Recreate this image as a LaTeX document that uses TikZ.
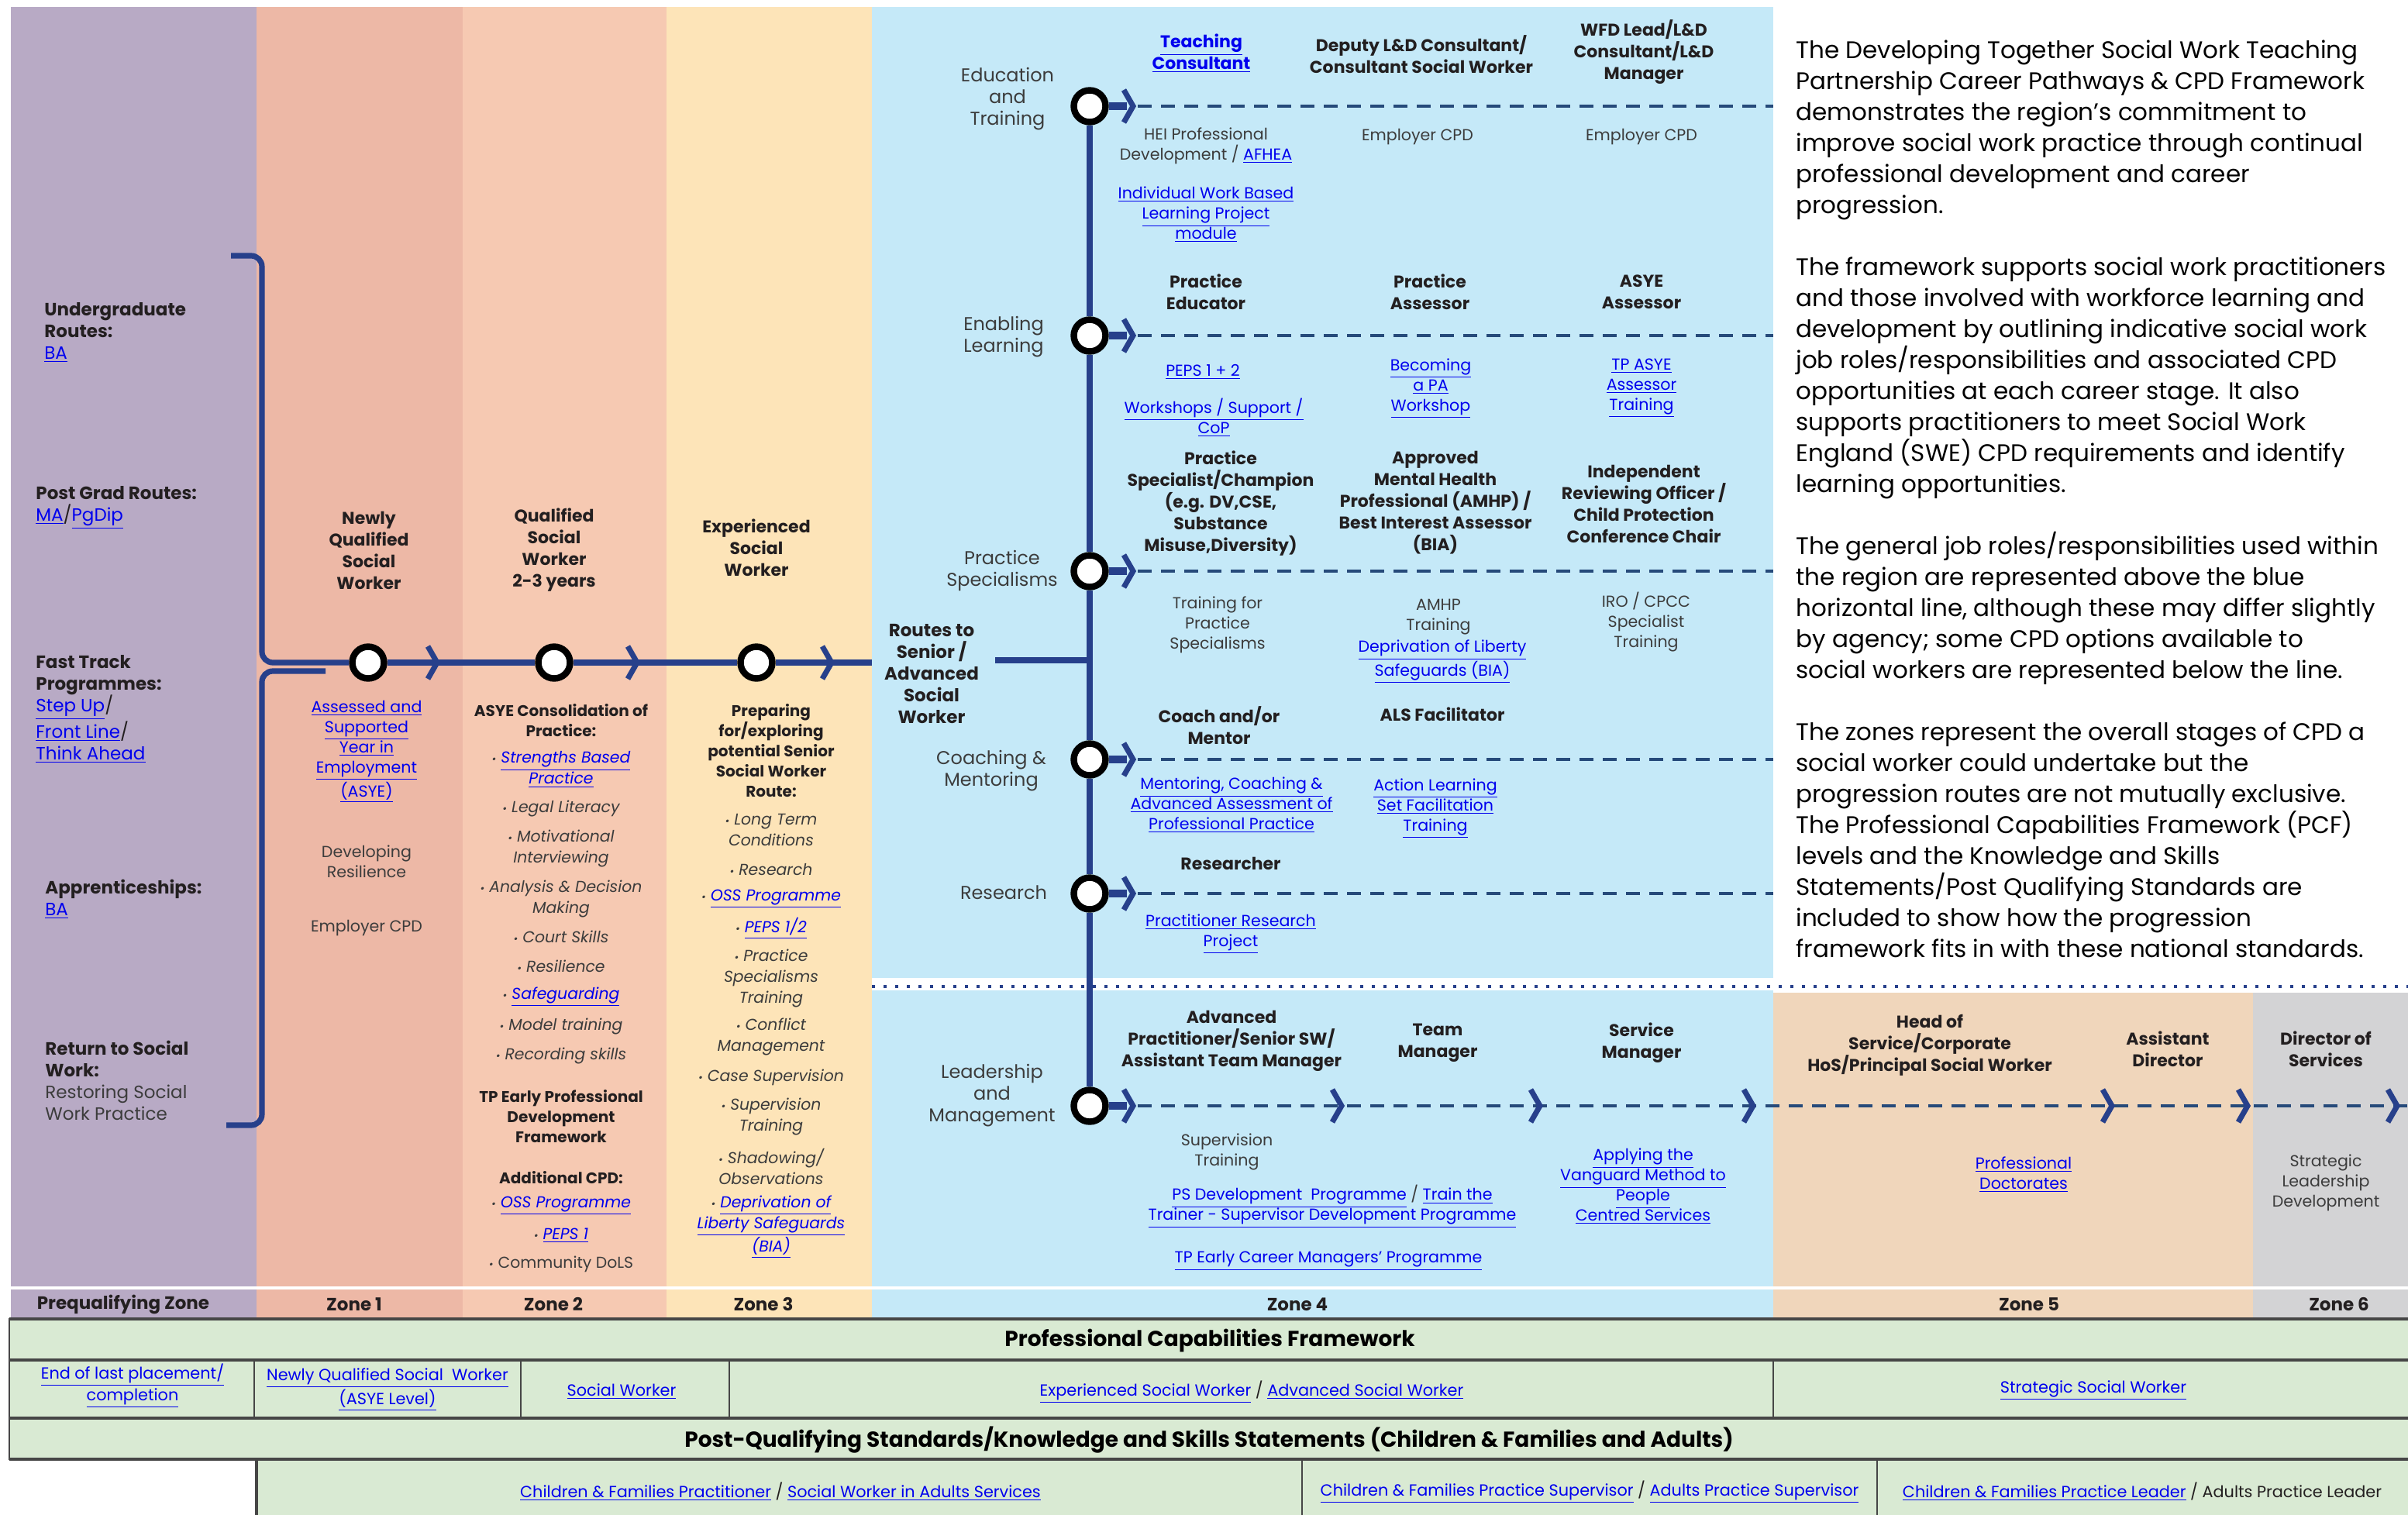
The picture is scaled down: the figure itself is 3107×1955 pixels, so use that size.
\documentclass[tikz,border=0pt]{standalone}
\usepackage{fontspec}
\setmainfont{Poppins}
\usetikzlibrary{positioning}

\definecolor{purplezone}{RGB}{184,170,197}
\definecolor{zoneone}{RGB}{237,184,166}
\definecolor{zonetwo}{RGB}{246,201,178}
\definecolor{zonethree}{RGB}{253,228,184}
\definecolor{zonefour}{RGB}{197,233,248}
\definecolor{zonefive}{RGB}{240,214,187}
\definecolor{zonesix}{RGB}{211,211,213}
\definecolor{tablegreen}{RGB}{217,234,211}
\definecolor{routeblue}{RGB}{39,64,139}
\definecolor{dashblue}{RGB}{38,74,122}
\definecolor{linkblue}{RGB}{0,0,238}
\definecolor{ink}{RGB}{35,31,32}
\definecolor{softink}{RGB}{60,60,60}
\definecolor{rulegray}{RGB}{70,70,70}

\newcommand\lk[1]{\textcolor{linkblue}{\underline{#1}}}
\newcommand\bul{{\fontsize{7}{7}\selectfont\textbullet}\hspace{3pt}}
\newcommand\fRole{\fontsize{11}{14}\selectfont\bfseries}
\newcommand\fSub{\fontsize{10}{13}\selectfont\bfseries}
\newcommand\fCpd{\fontsize{10.3}{13}\selectfont}
\newcommand\fItem{\fontsize{10.2}{13.5}\selectfont\itshape}
\newcommand\fLane{\fontsize{12}{14}\selectfont}
\newcommand\fEntry{\fontsize{11.5}{14}\selectfont}
\newcommand\fZone{\fontsize{11.5}{14}\selectfont\bfseries}
\newcommand\fHead{\fontsize{14}{16}\selectfont\bfseries}
\newcommand\fTab{\fontsize{10.4}{14}\selectfont}
\newcommand\fNote{\fontsize{15.5}{20}\selectfont}

\tikzset{chev/.pic={\draw[routeblue, line width=3.5pt] (-12,-21) -- (0,0) -- (-12,21);}}

\begin{document}
\begin{tikzpicture}[x=0.5pt, y=-0.5pt,
    trunk/.style={routeblue, line width=3.6pt},
    bar/.style={routeblue, line width=5pt},
    dashrow/.style={dashblue, line width=2pt, dash pattern=on 9pt off 6pt},
    dotrow/.style={routeblue, line width=2.2pt, dash pattern=on 2pt off 5.5pt},
    role/.style={font=\fRole, text=ink, align=center, inner sep=0pt},
    sub/.style={role, font=\fSub},
    cpd/.style={font=\fCpd, text=softink, align=center, inner sep=0pt},
    item/.style={font=\fItem, text=softink, align=center, inner sep=0pt},
    lane/.style={font=\fLane, text=softink, align=center, inner sep=0pt},
    entry/.style={font=\fEntry, text=ink, align=left, anchor=west, inner sep=0pt},
    zonelbl/.style={font=\fZone, text=ink, inner sep=0pt},
    cell/.style={fill=tablegreen, draw=rulegray, line width=0.8pt},
    tab/.style={font=\fTab, text=ink, align=center, inner sep=0pt},
    heading/.style={font=\fHead, text=black, inner sep=0pt}]
  \tikzstyle{station}=[circle, draw=black, fill=white, line width=4.2pt, minimum size=20.5pt, inner sep=0pt]
  \useasboundingbox (0,0) rectangle (3107,1955);

  % zones
  \fill[purplezone] (14,9) rectangle (331,1702);
  \fill[zoneone] (331,9) rectangle (597,1702);
  \fill[zonetwo] (597,9) rectangle (860,1702);
  \fill[zonethree] (860,9) rectangle (1125,1702);
  \fill[zonefour] (1125,9) rectangle (2288,1262);
  \fill[zonefour] (1125,1278) rectangle (2288,1702);
  \fill[zonefive] (2288,1281) rectangle (2907,1702);
  \fill[zonesix] (2907,1281) rectangle (3107,1702);
  \fill[white] (14,1660) rectangle (3107,1664);

  \coordinate (dotL) at (1125,1273);
  \coordinate (dotR) at (3107,1273);
  \draw[dotrow] (dotL) -- (dotR);

  % framework table
  \draw[cell] (12,1702) rectangle (3110,1755);
  \draw[cell] (12,1755) rectangle (3110,1830);
  \draw[cell] (12,1830) rectangle (3110,1883);
  \draw[cell] (331,1883) rectangle (3110,1962);
  \foreach \x in {328,672,941,2288} \draw[rulegray, line width=0.8pt] (\x,1755) -- (\x,1830);
  \foreach \x in {1680,2422} \draw[rulegray, line width=0.8pt] (\x,1883) -- (\x,1962);
  \foreach \y in {1702,1755,1830,1883} \draw[rulegray, line width=1.6pt] (12,\y) -- (3110,\y);
  \draw[rulegray, line width=1.6pt] (331,1883) -- (331,1962);

  % stations
  \node[station] (c1) at (475,855) {};
  \node[station] (c2) at (715,855) {};
  \node[station] (c3) at (976,855) {};
  \node[station] (edu) at (1406,137) {};
  \node[station] (ena) at (1406,433) {};
  \node[station] (pra) at (1406,737) {};
  \node[station] (coa) at (1406,980) {};
  \node[station] (rsc) at (1406,1153) {};
  \node[station] (lea) at (1406,1427) {};

  \coordinate (brtop) at (298,330);
  \coordinate (brbot) at (292,1452);
  \coordinate (brjoin) at (420,866);
  \coordinate (trunkend) at (1125,855);
  \coordinate (routesjoin) at (1284,852);
  \coordinate (zfourend) at (2288,0);
  \coordinate (pageend) at (3107,0);

  \draw[trunk, rounded corners=7pt] (brtop) -- ++(40,0) |- (c1);
  \draw[trunk, rounded corners=7pt] (brbot) -- ++(46,0) |- (brjoin);
  \draw[trunk] (c1) -- (c2) -- (c3) -- (trunkend);
  \foreach \x in {564,822,1073} \pic at (\x,855) {chev};

  \draw[trunk] (edu) -- (ena) -- (pra) -- (coa) -- (rsc) -- (lea);
  \draw[trunk] (routesjoin) -- (routesjoin -| edu);

  \foreach \r in {edu,ena,pra,coa,rsc}{
    \draw[bar] (\r) -- ++(48,0);
    \draw[dashrow] ([xshift=31pt]\r.center) -- (\r -| zfourend);
    \pic at ([xshift=28pt]\r.center) {chev};
  }
  \draw[bar] (lea) -- ++(48,0);
  \draw[dashrow] ([xshift=31pt]lea.center) -- (lea -| pageend);
  \pic at ([xshift=28pt]lea.center) {chev};
  \foreach \x in {1731,1987,2262,2725,2900,3093} \pic at (\x,1427) {chev};

  % prequalifying routes
  \node[entry] (ug) at (57,429) {{\bfseries Undergraduate}\\{\bfseries Routes:}\\\lk{BA}};
  \node[entry] (pg) at (46,655) {{\bfseries Post Grad Routes:}\\\lk{MA}/\lk{PgDip}};
  \node[entry] (ft) at (46,915) {{\bfseries Fast Track}\\{\bfseries Programmes:}\\\lk{Step Up}/\\\lk{Front Line}/\\\lk{Think Ahead}};
  \node[entry] (ap) at (58,1160) {{\bfseries Apprenticeships:}\\\lk{BA}};
  \node[entry] (rt) at (58,1394) {{\bfseries Return to Social}\\{\bfseries Work:}\\\textcolor{softink}{Restoring Social}\\\textcolor{softink}{Work Practice}};

  % zones 1 to 3
  \node[role] (nq) at (476,710) {Newly\\Qualified\\Social\\Worker};
  \node[role] (qsw) at (715,710) {Qualified\\Social\\Worker\\2-3 years};
  \node[role] (esw) at (976,707) {Experienced\\Social\\Worker};

  \node[cpd] (asye) at (473,970) {\lk{Assessed and}\\\lk{Supported}\\\lk{Year in}\\\lk{Employment}\\\lk{(ASYE)}};
  \node[cpd] (resil) at (473,1112) {Developing\\Resilience};
  \node[cpd] (emp1) at (473,1198) {Employer CPD};

  \node[sub] (z2head) at (724,930) {ASYE Consolidation of\\Practice:};
  \node[item] (sbp) at (724,993) {\bul\lk{Strengths Based}\\\lk{Practice}};
  \node[item] (legal) at (724,1043) {\bul Legal Literacy};
  \node[item] (motiv) at (724,1095) {\bul Motivational\\Interviewing};
  \node[item] (anal) at (724,1160) {\bul Analysis \& Decision\\Making};
  \node[item] (court) at (724,1209) {\bul Court Skills};
  \node[item] (resz2) at (724,1247) {\bul Resilience};
  \node[item] (safe) at (724,1286) {\bul\lk{Safeguarding}};
  \node[item] (model) at (724,1324) {\bul Model training};
  \node[item] (record) at (724,1362) {\bul Recording skills};
  \node[sub] (tpepd) at (724,1441) {TP Early Professional\\Development\\Framework};
  \node[sub] (addcpd) at (724,1520) {Additional CPD:};
  \node[item] (oss2) at (724,1556) {\bul\lk{OSS Programme}};
  \node[item] (peps1) at (724,1594) {\bul\lk{PEPS 1}};
  \node[item] (dols) at (724,1631) {\bul\upshape Community DoLS};

  \node[sub] (z3head) at (995,969) {Preparing\\for/exploring\\potential Senior\\Social Worker\\Route:};
  \node[item] (ltc) at (995,1071) {\bul Long Term\\Conditions};
  \node[item] (resz3) at (995,1122) {\bul Research};
  \node[item] (oss3) at (995,1160) {\bul\lk{OSS Programme}};
  \node[item] (peps12) at (995,1198) {\bul\lk{PEPS 1/2}};
  \node[item] (pst) at (995,1262) {\bul Practice\\Specialisms\\Training};
  \node[item] (confl) at (995,1338) {\bul Conflict\\Management};
  \node[item] (casesup) at (995,1390) {\bul Case Supervision};
  \node[item] (suptr) at (995,1441) {\bul Supervision\\Training};
  \node[item] (shadow) at (995,1505) {\bul Shadowing/\\Observations};
  \node[item] (dolz3) at (995,1583) {\bul\lk{Deprivation of}\\\lk{Liberty Safeguards}\\\lk{(BIA)}};

  % zone 4 lanes
  \node[lane] (lEdu) at (1300,128) {Education\\and\\Training};
  \node[lane] (lEna) at (1295,435) {Enabling\\Learning};
  \node[lane] (lPra) at (1293,736) {Practice\\Specialisms};
  \node[role, font=\fontsize{11.5}{14}\selectfont\bfseries] (routes) at (1202,870) {Routes to\\Senior /\\Advanced\\Social\\Worker};
  \node[lane] (lCoa) at (1279,995) {Coaching \&\\Mentoring};
  \node[lane] (lRes) at (1295,1152) {Research};
  \node[lane] (lLea) at (1280,1414) {Leadership\\and\\Management};

  \node[role] (tc) at (1550,69) {\lk{Teaching}\\\lk{Consultant}};
  \node[role] (dep) at (1834,70) {Deputy L\&D Consultant/\\Consultant Social Worker};
  \node[role] (wfd) at (2121,67) {WFD Lead/L\&D\\Consultant/L\&D\\Manager};
  \node[cpd] (hei) at (1556,188) {HEI Professional\\Development / \lk{AFHEA}};
  \node[cpd] (ecpd1) at (1829,177) {Employer CPD};
  \node[cpd] (ecpd2) at (2118,177) {Employer CPD};
  \node[cpd] (iwb) at (1556,277) {\lk{Individual Work Based}\\\lk{Learning Project}\\\lk{module}};

  \node[role] (pe) at (1556,377) {Practice\\Educator};
  \node[role] (pa) at (1845,377) {Practice\\Assessor};
  \node[role] (aa) at (2118,377) {ASYE\\Assessor};
  \node[cpd] (peps) at (1552,480) {\lk{PEPS 1 + 2}};
  \node[cpd] (wsc) at (1566,539) {\lk{Workshops / Support /}\\\lk{CoP}};
  \node[cpd] (bpa) at (1846,501) {\lk{Becoming}\\\lk{a PA}\\\lk{Workshop}};
  \node[cpd] (tpa) at (2118,501) {\lk{TP ASYE}\\\lk{Assessor}\\\lk{Training}};

  \node[role] (psc) at (1575,650) {Practice\\Specialist/Champion\\(e.g. DV,CSE,\\Substance\\Misuse,Diversity)};
  \node[role] (amhp) at (1852,649) {Approved\\Mental Health\\Professional (AMHP) /\\Best Interest Assessor\\(BIA)};
  \node[role] (iro) at (2121,650) {Independent\\Reviewing Officer /\\Child Protection\\Conference Chair};
  \node[cpd] (tfp) at (1571,806) {Training for\\Practice\\Specialisms};
  \node[cpd] (amt) at (1856,796) {AMHP\\Training};
  \node[cpd] (dolz4) at (1861,854) {\lk{Deprivation of Liberty}\\\lk{Safeguards (BIA)}};
  \node[cpd] (irot) at (2124,803) {IRO / CPCC\\Specialist\\Training};

  \node[role] (cm4) at (1573,936) {Coach and/or\\Mentor};
  \node[role] (als) at (1861,922) {ALS Facilitator};
  \node[cpd] (mca) at (1589,1039) {\lk{Mentoring, Coaching \&}\\\lk{Advanced Assessment of}\\\lk{Professional Practice}};
  \node[cpd] (alt) at (1852,1043) {\lk{Action Learning}\\\lk{Set Facilitation}\\\lk{Training}};

  \node[role] (rsr) at (1588,1114) {Researcher};
  \node[cpd] (prp) at (1588,1205) {\lk{Practitioner Research}\\\lk{Project}};

  \node[role] (adv) at (1589,1343) {Advanced\\Practitioner/Senior SW/\\Assistant Team Manager};
  \node[role] (tm) at (1855,1346) {Team\\Manager};
  \node[role] (sm) at (2118,1346) {Service\\Manager};
  \node[cpd] (st) at (1583,1486) {Supervision\\Training};
  \node[cpd] (psd) at (1719,1557) {\lk{PS Development\ \ Programme} / \lk{Train the}\\\lk{Trainer - Supervisor Development Programme}};
  \node[cpd] (ecm) at (1714,1627) {\lk{TP Early Career Managers' Programme}};
  \node[cpd] (van) at (2120,1531) {\lk{Applying the}\\\lk{Vanguard Method to}\\\lk{People}\\\lk{Centred Services}};

  % zones 5 and 6
  \node[role] (hos) at (2490,1349) {Head of\\Service/Corporate\\HoS/Principal Social Worker};
  \node[role] (ad5) at (2797,1354) {Assistant\\Director};
  \node[role] (dos) at (3001,1354) {Director of\\Services};
  \node[cpd] (pd) at (2611,1516) {\lk{Professional}\\\lk{Doctorates}};
  \node[cpd] (sld) at (3001,1526) {Strategic\\Leadership\\Development};

  % zone labels
  \node[zonelbl] (zpre) at (159,1683) {Prequalifying Zone};
  \node[zonelbl] (zone1) at (457,1683) {Zone 1};
  \node[zonelbl] (zone2) at (714,1683) {Zone 2};
  \node[zonelbl] (zone3) at (985,1683) {Zone 3};
  \node[zonelbl] (zone4) at (1674,1683) {Zone 4};
  \node[zonelbl] (zone5) at (2618,1683) {Zone 5};
  \node[zonelbl] (zone6) at (3018,1683) {Zone 6};

  % table text
  \node[heading] (pcf) at (1561,1730) {Professional Capabilities Framework};
  \node[tab] (pcfa) at (171,1788) {\lk{End of last placement/}\\\lk{completion}};
  \node[tab] (pcfb) at (500,1793) {\lk{Newly Qualified Social\ \ Worker}\\\lk{(ASYE Level)}};
  \node[tab] (pcfc) at (802,1796) {\lk{Social Worker}};
  \node[tab] (pcfd) at (1615,1796) {\lk{Experienced Social Worker} / \lk{Advanced Social Worker}};
  \node[tab] (pcfe) at (2701,1794) {\lk{Strategic Social Worker}};
  \node[heading] (pqs) at (1560,1858) {Post-Qualifying Standards/Knowledge and Skills Statements (Children \& Families and Adults)};
  \node[tab] (pqsa) at (1007,1925) {\lk{Children \& Families Practitioner} / \lk{Social Worker in Adults Services}};
  \node[tab] (pqsb) at (2051,1925) {\lk{Children \& Families Practice Supervisor} / \lk{Adults Practice Supervisor}};
  \node[tab] (pqsc) at (2764,1925) {\lk{Children \& Families Practice Leader} / Adults Practice Leader};

  % notes
  \node[font=\fNote, text=black, align=left, anchor=north west, inner sep=0pt] (notes) at (2317,51)
    {The Developing Together Social Work Teaching\\
     Partnership Career Pathways \& CPD Framework\\
     demonstrates the region’s commitment to\\
     improve social work practice through continual\\
     professional development and career\\
     progression.\\[20pt]
     The framework supports social work practitioners\\
     and those involved with workforce learning and\\
     development by outlining indicative social work\\
     job roles/responsibilities and associated CPD\\
     opportunities at each career stage. It also\\
     supports practitioners to meet Social Work\\
     England (SWE) CPD requirements and identify\\
     learning opportunities.\\[20pt]
     The general job roles/responsibilities used within\\
     the region are represented above the blue\\
     horizontal line, although these may differ slightly\\
     by agency; some CPD options available to\\
     social workers are represented below the line.\\[20pt]
     The zones represent the overall stages of CPD a\\
     social worker could undertake but the\\
     progression routes are not mutually exclusive.\\
     The Professional Capabilities Framework (PCF)\\
     levels and the Knowledge and Skills\\
     Statements/Post Qualifying Standards are\\
     included to show how the progression\\
     framework fits in with these national standards.};
\end{tikzpicture}
\end{document}
